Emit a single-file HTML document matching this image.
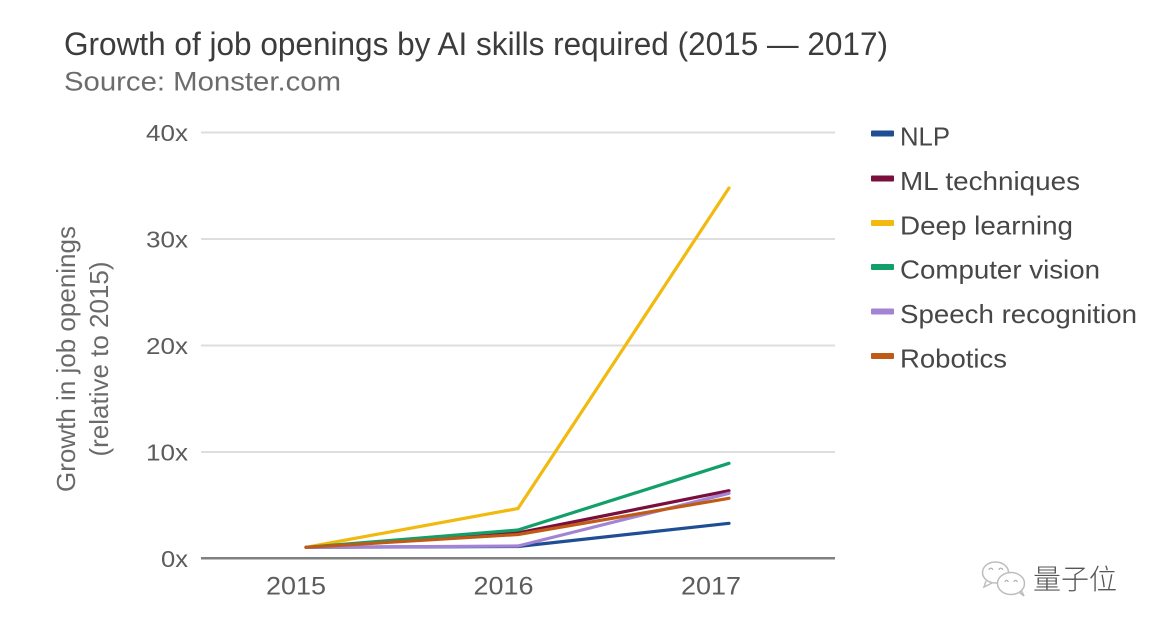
<!DOCTYPE html>
<html>
<head>
<meta charset="utf-8">
<style>
  html, body { margin: 0; padding: 0; background: #ffffff; }
  body { width: 1154px; height: 630px; overflow: hidden; }
  svg { display: block; }
  text { font-family: "Liberation Sans", Arial, sans-serif; }
</style>
</head>
<body>
<svg width="1154" height="630" viewBox="0 0 1154 630" xmlns="http://www.w3.org/2000/svg">
  <rect x="0" y="0" width="1154" height="630" fill="#ffffff"/>

  <!-- Title -->
  <text x="64" y="55" font-size="32" fill="#3c3c3c" textLength="824" lengthAdjust="spacingAndGlyphs">Growth of job openings by AI skills required (2015 — 2017)</text>
  <text x="64" y="90.5" font-size="27" fill="#6c6c6c" textLength="277" lengthAdjust="spacingAndGlyphs">Source: Monster.com</text>

  <!-- Gridlines -->
  <g stroke="#dedede" stroke-width="2">
    <line x1="201" y1="132.5" x2="835" y2="132.5"/>
    <line x1="201" y1="239" x2="835" y2="239"/>
    <line x1="201" y1="345.5" x2="835" y2="345.5"/>
    <line x1="201" y1="452" x2="835" y2="452"/>
  </g>
  <line x1="201" y1="558.3" x2="835" y2="558.3" stroke="#808080" stroke-width="2.5"/>

  <!-- Y tick labels -->
  <g font-size="23" fill="#5c5c5c">
    <text x="146" y="141" textLength="42" lengthAdjust="spacingAndGlyphs">40x</text>
    <text x="146" y="247.5" textLength="42" lengthAdjust="spacingAndGlyphs">30x</text>
    <text x="146" y="354" textLength="42" lengthAdjust="spacingAndGlyphs">20x</text>
    <text x="146" y="460.5" textLength="42" lengthAdjust="spacingAndGlyphs">10x</text>
    <text x="161" y="566.8" textLength="27" lengthAdjust="spacingAndGlyphs">0x</text>
  </g>

  <!-- Y axis title -->
  <g font-size="26" fill="#6a6a6a" text-anchor="middle">
    <text transform="translate(75,359) rotate(-90)" x="0" y="0">Growth in job openings</text>
    <text transform="translate(108,359) rotate(-90)" x="0" y="0">(relative to 2015)</text>
  </g>

  <!-- X tick labels -->
  <g font-size="25" fill="#5c5c5c">
    <text x="266" y="594.5" textLength="60" lengthAdjust="spacingAndGlyphs">2015</text>
    <text x="473.5" y="594.5" textLength="60" lengthAdjust="spacingAndGlyphs">2016</text>
    <text x="681" y="594.5" textLength="60" lengthAdjust="spacingAndGlyphs">2017</text>
  </g>

  <!-- Series -->
  <g fill="none" stroke-width="3.2" stroke-linejoin="round" stroke-linecap="round">
    <polyline stroke="#1f4e94" points="306,547.3 518,546.5 729,523.3"/>
    <polyline stroke="#7a0e3c" points="306,547.3 518,533 729,490.7"/>
    <polyline stroke="#f2b90f" points="306,547.3 518,508.5 729,188"/>
    <polyline stroke="#12a06a" points="306,547.3 518,530 729,463.3"/>
    <polyline stroke="#a383d3" points="306,547.3 518,546 729,493.3"/>
    <polyline stroke="#bf5b16" points="306,547.3 518,534.5 729,498.3"/>
  </g>

  <!-- Legend -->
  <g>
    <rect x="871" y="130.5" width="23" height="6" rx="1" fill="#1f4e94"/>
    <rect x="871" y="175.5" width="23" height="6" rx="1" fill="#7a0e3c"/>
    <rect x="871" y="220" width="23" height="6" rx="1" fill="#f2b90f"/>
    <rect x="871" y="264" width="23" height="6" rx="1" fill="#12a06a"/>
    <rect x="871" y="308.5" width="23" height="6" rx="1" fill="#a383d3"/>
    <rect x="871" y="353" width="23" height="6" rx="1" fill="#bf5b16"/>
  </g>
  <g font-size="26" fill="#474747">
    <text x="900" y="145.5" textLength="50" lengthAdjust="spacingAndGlyphs">NLP</text>
    <text x="900" y="190" textLength="180" lengthAdjust="spacingAndGlyphs">ML techniques</text>
    <text x="900" y="234.5" textLength="173" lengthAdjust="spacingAndGlyphs">Deep learning</text>
    <text x="900" y="278.5" textLength="200" lengthAdjust="spacingAndGlyphs">Computer vision</text>
    <text x="900" y="323" textLength="237" lengthAdjust="spacingAndGlyphs">Speech recognition</text>
    <text x="900" y="367.5" textLength="107" lengthAdjust="spacingAndGlyphs">Robotics</text>
  </g>

  <!-- Watermark icon -->
  <g fill="none" stroke="#bdbdbd" stroke-width="1.5">
    <ellipse cx="995.5" cy="572.5" rx="13" ry="10.5"/>
    <path d="M986 581 L984 587 L992 583"/>
  </g>
  <ellipse cx="1011" cy="583.5" rx="13.5" ry="11" fill="#ffffff" stroke="#bdbdbd" stroke-width="1.5"/>
  <path d="M1019 592 L1024 596 L1021 590" fill="none" stroke="#bdbdbd" stroke-width="1.5"/>
  <g fill="none" stroke="#b0b0b0" stroke-width="1.2">
    <path d="M989 570 a1.8 1.8 0 0 1 3.6 0"/>
    <path d="M999 570 a1.8 1.8 0 0 1 3.6 0"/>
    <path d="M1005 582 a1.6 1.6 0 0 1 3.2 0"/>
    <path d="M1014 582 a1.6 1.6 0 0 1 3.2 0"/>
  </g>
  <text x="1033" y="589" font-size="28" fill="#555555" style='font-family: "Liberation Sans", "Noto Sans CJK SC", sans-serif; font-weight: 300;' textLength="84" lengthAdjust="spacingAndGlyphs">量子位</text>
</svg>
</body>
</html>
